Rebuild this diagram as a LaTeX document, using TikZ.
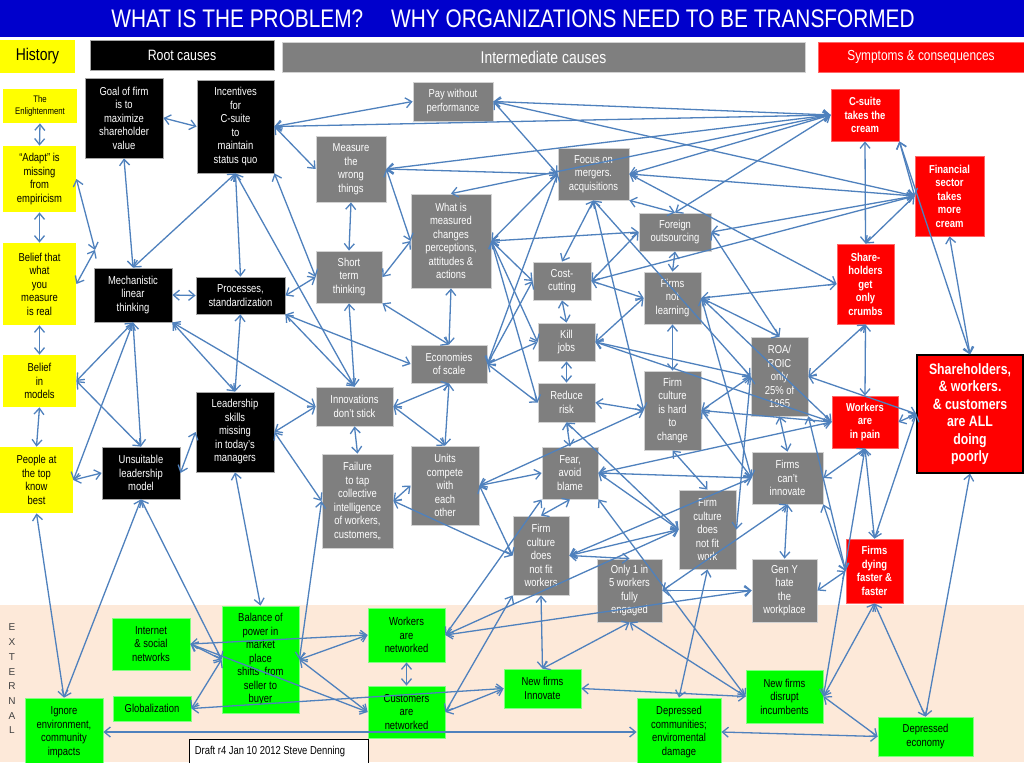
\documentclass[tikz,border=0pt]{standalone}
\usepackage{fontspec}
\setmainfont{Liberation Sans}[FakeStretch=0.82]
\usetikzlibrary{arrows.meta}
\definecolor{edgec}{HTML}{4F81BD}
\definecolor{titleblue}{HTML}{0000CC}
\definecolor{peach}{HTML}{FDE9D9}
\definecolor{boxgray}{HTML}{7F7F7F}
\definecolor{ylw}{HTML}{FFFF00}
\definecolor{grn}{HTML}{00FF00}
\definecolor{rd}{HTML}{FF0000}
\newcommand\nf{\fontsize{11.5}{13.5}\selectfont}
\newcommand\mybox[7]{\node[#1, minimum width={(#5)-(#3)}, minimum height={(#6)-(#4)}] (#2) at ({((#3)+(#5))/2},{((#4)+(#6))/2}) {#7};}
\newcommand\lk[2]{\draw[link] (#1) -- (#2);}
\tikzset{
  bx/.style={inner sep=0pt, align=center, font=\nf, line width=0.8pt},
  ybox/.style={bx, fill=ylw, text=black},
  kbox/.style={bx, fill=black, draw=gray!70, text=white},
  gbox/.style={bx, fill=boxgray, draw=gray!35, text=white},
  rbox/.style={bx, fill=rd, draw=rd!60, text=white, font=\nf\bfseries},
  gnbox/.style={bx, fill=grn, draw=grn!50!white, text=black},
  link/.style={draw=edgec, line width=1.3pt, <->},
}
\begin{document}
\begin{tikzpicture}[x=1pt,y=-1pt,>={Straight Barb[length=6pt,width=10pt]}]
\useasboundingbox (0,0) rectangle (1024,762);
\fill[white] (0,0) rectangle (1024,762);
% backgrounds
\fill[peach] (0,605) rectangle (1024,762);
\fill[titleblue] (0,0) rectangle (1024,37);
\node[text=white, font=\fontsize{25.4}{28}\selectfont] (title) at (513,18.5) {WHAT IS THE PROBLEM?\hspace{1.1em}WHY ORGANIZATIONS NEED TO BE TRANSFORMED};
% headers
\mybox{ybox,font=\fontsize{17}{20}\selectfont}{hhist}{0}{40}{75}{73}{History}
\mybox{kbox,font=\fontsize{15}{18}\selectfont}{hroot}{90}{40}{274}{70}{Root causes}
\mybox{gbox,font=\fontsize{17}{20}\selectfont}{hinter}{282}{42}{805}{72}{Intermediate causes}
\mybox{rbox,font=\fontsize{14.5}{18}\selectfont}{hsymp}{818}{42}{1024}{72}{Symptoms \& consequences}
\node[text=black!75, align=center, font=\fontsize{10}{14.7}\selectfont\addfontfeature{FakeStretch=1}] (ext) at (12,679) {E\\X\\T\\E\\R\\N\\A\\L};
% history
\mybox{ybox,font=\fontsize{9.5}{12}\selectfont}{enl}{3}{89}{77}{123}{The\\Enlightenment}
\mybox{ybox}{adapt}{3}{146}{76}{212}{“Adapt” is\\missing\\from\\empiricism}
\mybox{ybox}{belief}{3}{243}{76}{325}{Belief that\\what\\you\\measure\\is real}
\mybox{ybox}{models}{3}{355}{76}{407}{Belief\\in\\models}
\mybox{ybox}{people}{0}{447}{73}{513}{People at\\the top\\know\\best}
% root causes
\mybox{kbox}{goal}{85}{78}{163}{158}{Goal of firm\\is to\\maximize\\shareholder\\value}
\mybox{kbox}{incent}{197}{80}{274}{173}{Incentives\\for\\C-suite\\to\\maintain\\status quo}
\mybox{kbox}{mech}{94}{268}{172}{322}{Mechanistic\\linear\\thinking}
\mybox{kbox}{proc}{196}{277}{285}{314}{Processes,\\standardization}
\mybox{kbox}{unsuit}{102}{447}{180}{499}{Unsuitable\\leadership\\model}
\mybox{kbox}{lead}{196}{392}{274}{472}{Leadership\\skills\\missing\\in today's\\managers}
% intermediate
\mybox{gbox}{pay}{413}{82}{493}{121}{Pay without\\performance}
\mybox{gbox}{measure}{316}{136}{386}{202}{Measure\\the\\wrong\\things}
\mybox{gbox}{whatis}{411}{194}{491}{288}{What is\\measured\\changes\\perceptions,\\attitudes \&\\actions}
\mybox{gbox}{focus}{558}{148}{629}{200}{Focus on\\mergers.\\acquisitions}
\mybox{gbox}{short}{316}{251}{382}{303}{Short\\term\\thinking}
\mybox{gbox}{cost}{533}{262}{591}{300}{Cost-\\cutting}
\mybox{gbox}{kill}{538}{323}{595}{361}{Kill\\jobs}
\mybox{gbox}{econ}{411}{345}{487}{383}{Economies\\of scale}
\mybox{gbox}{innov}{316}{387}{393}{426}{Innovations\\don't stick}
\mybox{gbox}{reduce}{538}{383}{595}{422}{Reduce\\risk}
\mybox{gbox}{failure}{322}{454}{393}{548}{Failure\\to tap\\collective\\intelligence\\of workers,\\customers,,}
\mybox{gbox}{units}{411}{446}{479}{525}{Units\\compete\\with\\each\\other}
\mybox{gbox}{fear}{542}{447}{598}{499}{Fear,\\avoid\\blame}
\mybox{gbox}{fcw}{513}{516}{569}{595}{Firm\\culture\\does\\not fit\\workers}
\mybox{gbox}{only1}{597}{559}{662}{622}{Only 1 in\\5 workers\\fully\\engaged}
\mybox{gbox}{foreign}{639}{213}{711}{251}{Foreign\\outsourcing}
\mybox{gbox}{notlearn}{644}{272}{701}{324}{Firms\\not\\learning}
\mybox{gbox}{roa}{751}{337}{808}{416}{ROA/\\ROIC\\only\\25\% of\\1965}
\mybox{gbox}{hard}{644}{371}{701}{450}{Firm\\culture\\is hard\\to\\change}
\mybox{gbox}{cant}{752}{452}{823}{504}{Firms\\can't\\innovate}
\mybox{gbox}{fcwork}{679}{490}{736}{569}{Firm\\culture\\does\\not fit\\work}
\mybox{gbox}{geny}{752}{559}{817}{622}{Gen Y\\hate\\the\\workplace}
% symptoms
\mybox{rbox}{csuite}{831}{89}{899}{141}{C-suite\\takes the\\cream}
\mybox{rbox}{fin}{915}{156}{984}{236}{Financial\\sector\\takes\\more\\cream}
\mybox{rbox}{crumbs}{837}{244}{894}{324}{Share-\\holders\\get\\only\\crumbs}
\mybox{rbox}{pain}{832}{396}{898}{448}{Workers\\are\\in pain}
\mybox{rbox,draw=black,line width=1.2pt,font=\fontsize{15}{17.5}\selectfont\bfseries}{all}{917}{355}{1023}{473}{Shareholders,\\\& workers.\\\& customers\\are ALL\\doing\\poorly}
\mybox{rbox}{dying}{846}{539}{903}{603}{Firms\\dying\\faster \&\\faster}
% external
\mybox{gnbox}{internet}{112}{618}{190}{670}{Internet\\\& social\\networks}
\mybox{gnbox}{glob}{113}{696}{191}{721}{Globalization}
\mybox{gnbox}{balance}{222}{606}{299}{713}{Balance of\\power in\\market\\place\\shifts\ \ from\\seller to\\buyer}
\mybox{gnbox}{wnet}{368}{608}{445}{662}{Workers\\are\\networked}
\mybox{gnbox}{cnet}{368}{686}{445}{738}{Customers\\are\\networked}
\mybox{gnbox}{ignore}{25}{698}{103}{766}{Ignore\\environment,\\community\\impacts}
\mybox{gnbox}{nfi}{504}{669}{581}{708}{New firms\\Innovate}
\mybox{gnbox}{depcom}{637}{698}{721}{766}{Depressed\\communities;\\enviromental\\damage}
\mybox{gnbox}{nfd}{746}{670}{823}{723}{New firms\\disrupt\\incumbents}
\mybox{gnbox}{depecon}{878}{717}{973}{756}{Depressed\\economy}
\node[draw=black, fill=white, line width=0.8pt, minimum width=179, minimum height=25, inner sep=0pt, text width=168, align=left, font=\fontsize{11.5}{13}\selectfont, anchor=north west] (draft) at (189,739) {\raisebox{1pt}{\spaceskip=2.6pt plus 1pt\relax Draft r4 Jan 10 2012 Steve Denning}};
\coordinate (j1) at (95,250);
% ---------------- connectors ----------------
\lk{enl.south}{adapt.north}
\lk{adapt.south}{belief.north}
\lk{belief.south}{models.north}
\lk{models.south}{people.north}
\lk{adapt.east}{j1}
\lk{belief.east}{j1}
\lk{goal.east}{incent.west}
\lk{goal.south}{mech.north}
\lk{incent.south}{mech.north}
\lk{incent.south}{proc.north}
\lk{mech.east}{proc.west}
\lk{mech.south}{unsuit.north}
\lk{models.east}{mech.south}
\lk{models.east}{unsuit.north}
\lk{people.east}{unsuit.west}
\lk{people.east}{mech.south}
\lk{unsuit.east}{lead.west}
\lk{lead.south}{balance.north}
\lk{unsuit.south}{ignore.north}
\lk{people.south}{ignore.north}
\lk{unsuit.south}{balance.west}
\lk{mech.south east}{lead.north}
\lk{proc.south}{lead.north}
\lk{mech.south east}{innov.west}
\lk{proc.east}{short.west}
\lk{proc.south east}{econ.west}
\lk{proc.south east}{innov.north}
\lk{lead.east}{innov.west}
\lk{lead.east}{failure.west}
\lk{incent.east}{pay.west}
\lk{incent.east}{csuite.west}
\lk{incent.east}{measure.west}
\lk{incent.south east}{short.west}
\lk{incent.south}{innov.north}
\lk{measure.south}{short.north}
\lk{measure.east}{whatis.west}
\lk{measure.east}{focus.west}
\lk{measure.east}{csuite.west}
\lk{short.east}{whatis.west}
\lk{short.south east}{econ.north}
\lk{short.south}{innov.north}
\lk{whatis.south}{econ.north}
\lk{whatis.north}{csuite.west}
\lk{whatis.east}{focus.west}
\lk{whatis.east}{foreign.west}
\lk{whatis.east}{cost.west}
\lk{whatis.east}{kill.west}
\lk{whatis.east}{reduce.west}
\lk{pay.east}{csuite.west}
\lk{pay.east}{focus.west}
\lk{pay.east}{fin.west}
\lk{focus.east}{csuite.west}
\lk{focus.east}{fin.west}
\lk{focus.east}{crumbs.west}
\lk{focus.south east}{foreign.north}
\lk{focus.south}{cost.north}
\lk{focus.south}{hard.west}
\lk{focus.south}{roa.west}
\lk{focus.west}{econ.east}
\lk{foreign.north}{csuite.west}
\lk{foreign.east}{fin.west}
\lk{foreign.south}{notlearn.north}
\lk{foreign.west}{cost.east}
\lk{foreign.east}{roa.north}
\lk{cost.east}{fin.west}
\lk{cost.east}{notlearn.west}
\lk{cost.south}{kill.north}
\lk{cost.west}{econ.east}
\lk{kill.south}{reduce.north}
\lk{kill.west}{econ.east}
\lk{kill.east}{notlearn.west}
\lk{kill.east}{pain.west}
\lk{kill.east}{roa.west}
\lk{econ.east}{reduce.west}
\lk{econ.south}{units.north}
\lk{econ.south}{innov.east}
\lk{innov.south}{failure.north}
\lk{innov.east}{units.north}
\lk{failure.east}{units.west}
\lk{failure.east}{fcw.west}
\lk{failure.west}{balance.east}
\lk{units.east}{fear.west}
\lk{units.east}{fcw.west}
\lk{units.east}{hard.west}
\lk{reduce.east}{hard.west}
\lk{reduce.south}{fear.north}
\lk{reduce.south}{fcwork.west}
\lk{fear.east}{pain.west}
\lk{fear.east}{cant.west}
\lk{fear.east}{fcwork.west}
\lk{fear.south}{fcw.north}
\lk{fear.south east}{nfd.west}
\lk{fcw.east}{fcwork.west}
\lk{fcw.east}{cant.west}
\lk{fcw.east}{only1.north}
\lk{fcw.south}{nfi.north}
\lk{notlearn.east}{crumbs.west}
\lk{notlearn.south}{hard.north}
\lk{notlearn.east}{roa.north}
\lk{notlearn.east}{cant.west}
\lk{notlearn.east}{pain.west}
\lk{hard.east}{roa.west}
\lk{hard.east}{pain.west}
\lk{hard.east}{cant.west}
\lk{hard.south}{fcwork.north}
\lk{roa.south}{cant.north}
\lk{roa.east}{crumbs.south}
\lk{roa.east}{all.west}
\lk{roa.west}{fcwork.east}
\lk{roa.south east}{dying.west}
\lk{cant.east}{pain.south}
\lk{cant.south}{geny.north}
\lk{cant.south}{only1.east}
\lk{cant.south east}{dying.west}
\lk{only1.east}{geny.west}
\lk{geny.east}{dying.west}
\lk{only1.south}{nfd.west}
\lk{only1.south}{nfi.north}
\lk{fcwork.south}{depcom.north}
\lk{csuite.south}{crumbs.north}
\lk{csuite.south east}{fin.west}
\lk{fin.west}{crumbs.north}
\lk{fin.south}{all.north}
\lk{csuite.south east}{all.north}
\lk{crumbs.south}{pain.north}
\lk{pain.east}{all.west}
\lk{pain.south}{dying.north}
\lk{all.west}{dying.north}
\lk{pain.south}{nfd.east}
\lk{dying.south}{nfd.east}
\lk{dying.south}{depecon.north}
\lk{nfd.east}{depecon.west}
\lk{all.south}{depecon.north}
\lk{nfi.east}{nfd.west}
\lk{depcom.east}{depecon.west}
\lk{ignore.east}{depcom.west}
\lk{internet.east}{balance.west}
\lk{internet.east}{wnet.west}
\lk{internet.east}{cnet.west}
\lk{glob.east}{balance.west}
\lk{glob.east}{nfi.west}
\lk{balance.east}{wnet.west}
\lk{balance.east}{cnet.west}
\lk{wnet.south}{cnet.north}
\lk{wnet.east}{fear.south west}
\lk{wnet.east}{fcwork.west}
\lk{wnet.east}{geny.west}
\lk{cnet.east}{nfi.west}
\lk{cnet.east}{fcw.south west}
\end{tikzpicture}
\end{document}
